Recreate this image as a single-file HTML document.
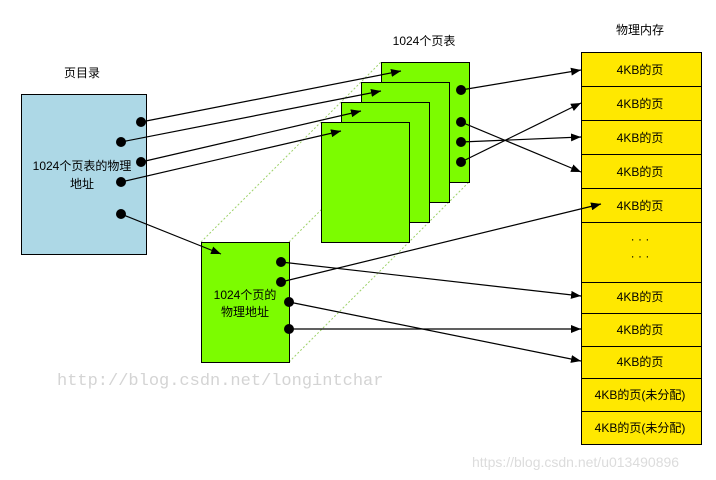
<!DOCTYPE html>
<html><head><meta charset="utf-8"><style>
html,body{margin:0;padding:0;background:#fff;width:716px;height:480px;overflow:hidden}
text{font-family:"Liberation Sans","Noto Sans CJK SC",sans-serif;font-size:12px;fill:#000}
</style></head><body>
<svg width="716" height="480" viewBox="0 0 716 480" xmlns="http://www.w3.org/2000/svg">
<defs><marker id="a" markerWidth="10" markerHeight="8" refX="10" refY="4" orient="auto" markerUnits="userSpaceOnUse"><path d="M0,0 L10,4 L0,8 Z" fill="#000"/></marker></defs>
<text x="82" y="77" text-anchor="middle" font-size="13">页目录</text>
<text x="424" y="45" text-anchor="middle" font-size="13">1024个页表</text>
<text x="640" y="34" text-anchor="middle" font-size="13">物理内存</text>
<rect x="21.5" y="94.5" width="125" height="160" fill="#add8e6" stroke="#000"/>
<text x="82" y="170" text-anchor="middle">1024个页表的物理</text>
<text x="82" y="188" text-anchor="middle">地址</text>
<g stroke="#9ed26a" stroke-dasharray="2,2" fill="none">
<line x1="201" y1="242" x2="381" y2="62"/><line x1="289" y1="242" x2="469" y2="62"/><line x1="289" y1="362" x2="469" y2="182"/>
</g>
<g fill="#7cfc00" stroke="#000">
<rect x="381.5" y="62.5" width="88" height="120"/>
<rect x="361.5" y="82.5" width="88" height="120"/>
<rect x="341.5" y="102.5" width="88" height="120"/>
<rect x="321.5" y="122.5" width="88" height="120"/>
<rect x="201.5" y="242.5" width="88" height="120"/>
</g>
<text x="245" y="299" text-anchor="middle">1024个页的</text>
<text x="245" y="316" text-anchor="middle">物理地址</text>
<g fill="#ffe800" stroke="#000">
<rect x="581.5" y="52.5" width="120" height="34"/><rect x="581.5" y="86.5" width="120" height="34"/>
<rect x="581.5" y="120.5" width="120" height="34"/><rect x="581.5" y="154.5" width="120" height="34"/>
<rect x="581.5" y="188.5" width="120" height="34"/><rect x="581.5" y="222.5" width="120" height="60"/>
<rect x="581.5" y="282.5" width="120" height="31"/><rect x="581.5" y="313.5" width="120" height="33"/>
<rect x="581.5" y="346.5" width="120" height="32"/><rect x="581.5" y="378.5" width="120" height="33"/>
<rect x="581.5" y="411.5" width="120" height="33"/>
</g>
<g text-anchor="middle">
<text x="640" y="74">4KB的页</text><text x="640" y="108">4KB的页</text><text x="640" y="142">4KB的页</text>
<text x="640" y="176">4KB的页</text><text x="640" y="210">4KB的页</text>
<text x="640" y="243">· · ·</text><text x="640" y="260">· · ·</text>
<text x="640" y="301">4KB的页</text><text x="640" y="334">4KB的页</text><text x="640" y="366">4KB的页</text>
<text x="640" y="399">4KB的页(未分配)</text><text x="640" y="432">4KB的页(未分配)</text>
</g>
<g stroke="#000" stroke-width="1.2" marker-end="url(#a)" fill="none">
<line x1="141" y1="122" x2="401" y2="71"/><line x1="121" y1="142" x2="381" y2="91"/>
<line x1="141" y1="162" x2="361" y2="111"/><line x1="121" y1="182" x2="341" y2="131"/>
<line x1="121" y1="214" x2="221" y2="254"/>
<line x1="461" y1="90" x2="581" y2="70"/><line x1="461" y1="122" x2="581" y2="172"/>
<line x1="461" y1="142" x2="581" y2="137"/><line x1="461" y1="162" x2="581" y2="103"/>
<line x1="281" y1="262" x2="581" y2="296"/><line x1="281" y1="282" x2="601" y2="204"/>
<line x1="289" y1="302" x2="581" y2="361"/><line x1="289" y1="329" x2="581" y2="329"/>
</g>
<g fill="#000">
<circle cx="141" cy="122" r="5"/><circle cx="121" cy="142" r="5"/><circle cx="141" cy="162" r="5"/>
<circle cx="121" cy="182" r="5"/><circle cx="121" cy="214" r="5"/>
<circle cx="461" cy="90" r="5"/><circle cx="461" cy="122" r="5"/><circle cx="461" cy="142" r="5"/><circle cx="461" cy="162" r="5"/>
<circle cx="281" cy="262" r="5"/><circle cx="281" cy="282" r="5"/><circle cx="289" cy="302" r="5"/><circle cx="289" cy="329" r="5"/>
</g>
<text x="57" y="385" style="font-family:'Liberation Mono','DejaVu Sans Mono',monospace;font-size:17px;fill:#d4d4d4">http://blog.csdn.net/longintchar</text>
<text x="472" y="467" style="font-size:14px;fill:#dcdcdc">https://blog.csdn.net/u013490896</text>
</svg>
</body></html>
